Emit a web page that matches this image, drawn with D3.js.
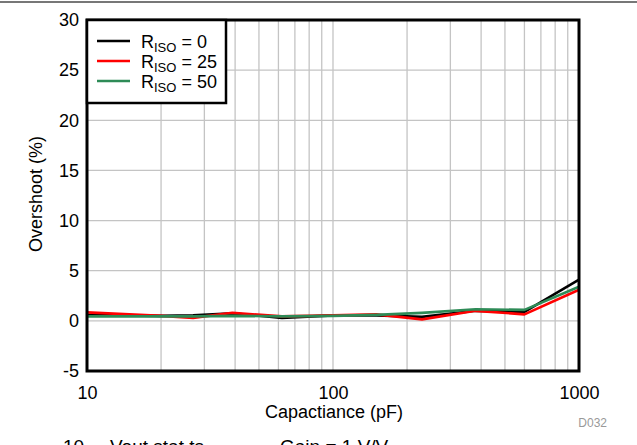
<!DOCTYPE html>
<html><head><meta charset="utf-8">
<script src="https://cdn.jsdelivr.net/npm/d3@7"></script>
<style>body{margin:0;background:#fff;} svg{display:block;font-family:"Liberation Sans",Arial,sans-serif;}</style>
</head><body><svg id="c" width="637" height="445"></svg>
<script>
const capacitance = [10, 20, 27, 39, 62, 100, 150, 230, 380, 600, 1000];
const riso0  = [0.6, 0.5, 0.55, 0.75, 0.3, 0.55, 0.55, 0.4, 1.0, 0.9, 4.1];
const riso25 = [0.85, 0.5, 0.3, 0.8, 0.45, 0.55, 0.65, 0.15, 1.0, 0.65, 3.1];
const riso50 = [0.45, 0.45, 0.45, 0.5, 0.45, 0.5, 0.6, 0.8, 1.15, 1.1, 3.4];
const seriesNames = ["0", "25", "50"];
const seriesColors = ["#000000", "#ff0000", "#2e8b57"];
const yTicks = [-5, 0, 5, 10, 15, 20, 25, 30];
const xTicks = [10, 100, 1000];

const svg = d3.select("#c");
const L = 87, R = 579, T = 20, B = 371;
const x = d3.scaleLog().domain([10, 1000]).range([L, R]);
const y = d3.scaleLinear().domain([-5, 30]).range([B, T]);

// top page rule
svg.append("line").attr("x1", 0).attr("x2", 637).attr("y1", 2).attr("y2", 2)
  .attr("stroke", "#777").attr("stroke-width", 2);

// grid
const minor = [];
[10, 100].forEach(d => { for (let k = 2; k <= 9; k++) minor.push(d * k); });
svg.append("g").selectAll("line").data(minor.concat([100])).join("line")
  .attr("x1", d => x(d)).attr("x2", d => x(d)).attr("y1", T).attr("y2", B)
  .attr("stroke", "#c4c4c4").attr("stroke-width", 1.3);
svg.append("g").selectAll("line").data(yTicks).join("line")
  .attr("x1", L).attr("x2", R).attr("y1", d => y(d)).attr("y2", d => y(d))
  .attr("stroke", "#c4c4c4").attr("stroke-width", 1.3);

// series
const line = d3.line().x((d, i) => x(capacitance[i])).y(d => y(d));
[riso0, riso25, riso50].forEach((s, i) => {
  svg.append("path").datum(s).attr("d", line).attr("fill", "none")
    .attr("stroke", seriesColors[i]).attr("stroke-width", 2.6).attr("stroke-linejoin", "round");
});

// frame
svg.append("rect").attr("x", L).attr("y", T).attr("width", R - L).attr("height", B - T)
  .attr("fill", "none").attr("stroke", "#000").attr("stroke-width", 3);

// axes labels
const FF = "Liberation Sans, Arial, sans-serif";
const ya = d3.axisLeft(y).tickValues(yTicks).tickSize(0).tickPadding(8).tickFormat(d => String(d));
const gy = svg.append("g").attr("transform", `translate(${L},0)`).call(ya);
gy.select(".domain").remove();
gy.selectAll("text").attr("font-size", 18).attr("fill", "#000").attr("font-family", FF);

const xa = d3.axisBottom(x).tickValues(xTicks).tickSize(0).tickPadding(15).tickFormat(d => String(d));
const gx = svg.append("g").attr("transform", `translate(0,${B})`).call(xa);
gx.select(".domain").remove();
gx.selectAll("text").attr("font-size", 18).attr("fill", "#000").attr("font-family", FF);

svg.append("text").attr("x", (L + R) / 2 + 1).attr("y", 418).attr("text-anchor", "middle")
  .attr("font-size", 18).text("Capactiance (pF)");
svg.append("text").attr("transform", `translate(42,194) rotate(-90)`)
  .attr("text-anchor", "middle").attr("font-size", 18).text("Overshoot (%)");
svg.append("text").attr("x", 607).attr("y", 427).attr("text-anchor", "end")
  .attr("font-size", 12).attr("fill", "#999").text("D032");

// truncated caption (cut off by the bottom edge, as in the reference)
const cap = svg.append("text").attr("y", 453).attr("font-size", 19);
cap.append("tspan").attr("x", 63).text("10.");
cap.append("tspan").attr("x", 110).text("Vout  stat  ts");
cap.append("tspan").attr("x", 280).text("Gain = 1 V/V");

// legend
const lg = svg.append("g");
lg.append("rect").attr("x", L).attr("y", T).attr("width", 139).attr("height", 83)
  .attr("fill", "#fff").attr("stroke", "#000").attr("stroke-width", 2.5);
seriesNames.forEach((n, i) => {
  const yy = T + 21 + i * 20;
  lg.append("line").attr("x1", 97).attr("x2", 130).attr("y1", yy).attr("y2", yy)
    .attr("stroke", seriesColors[i]).attr("stroke-width", 2.6);
  const t = lg.append("text").attr("x", 141).attr("y", yy + 6.5).attr("font-size", 18);
  t.append("tspan").text("R");
  t.append("tspan").attr("font-size", 13).attr("dy", 4).text("ISO");
  t.append("tspan").attr("dy", -4).text(" = " + n);
});
</script></body></html>
